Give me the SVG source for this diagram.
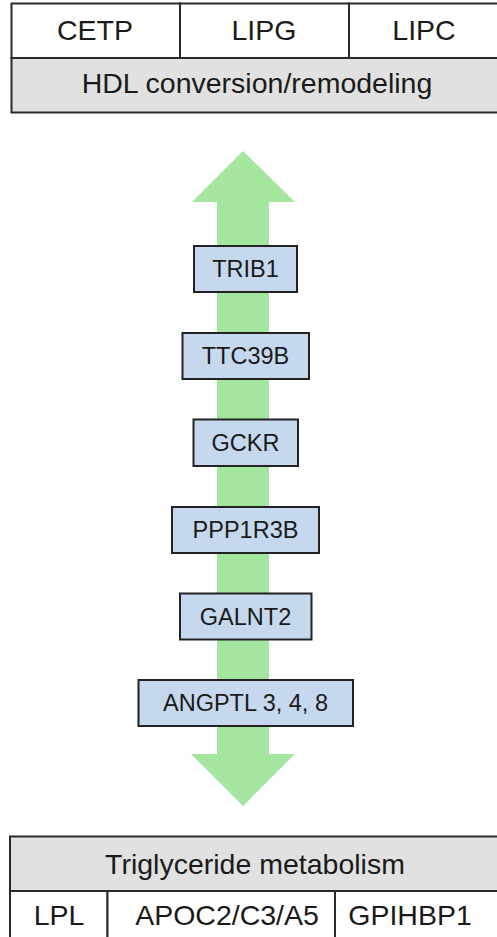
<svg xmlns="http://www.w3.org/2000/svg" width="497" height="937" viewBox="0 0 497 937">
<style>
text{font-family:"Liberation Sans",Arial,Helvetica,sans-serif;fill:#1a1a1a;text-anchor:middle}
.cell{fill:#ffffff;stroke:#2a2a2a;stroke-width:2}
.head{fill:#e1e1e1;stroke:#2a2a2a;stroke-width:2}
.big{font-size:28.5px}
.box rect{fill:#c6d8ee;stroke:#222;stroke-width:2}
.box text{font-size:23.5px}
</style>
<rect width="497" height="937" fill="#ffffff"/>
<g id="connectors">
<polygon points="243,151 295,202 269,202 269,754 295,754 243,806 191,754 217,754 217,202 192,202" fill="#a4e6a0"/>
</g>
<g id="hdl-table">
<rect class="cell" x="11.5" y="3.5" width="168.5" height="54.5"/>
<rect class="cell" x="180" y="3.5" width="169" height="54.5"/>
<rect class="cell" x="349" y="3.5" width="160" height="54.5"/>
<rect class="head" x="11.5" y="58" width="497.5" height="54.5"/>
<text class="big" x="95" y="39.5">CETP</text>
<text class="big" x="264" y="39.5">LIPG</text>
<text class="big" x="424" y="39.5">LIPC</text>
<text class="big" x="257" y="92.5">HDL conversion/remodeling</text>
</g>
<g id="trib1" class="box"><rect x="194" y="246" width="103" height="46"/><text x="245.5" y="277.4">TRIB1</text></g>
<g id="ttc39b" class="box"><rect x="182.5" y="333" width="126.5" height="46"/><text x="245.5" y="364.4">TTC39B</text></g>
<g id="gckr" class="box"><rect x="193.5" y="419.5" width="104.5" height="46.5"/><text x="245.5" y="451.2">GCKR</text></g>
<g id="ppp1r3b" class="box"><rect x="172" y="507" width="147" height="46"/><text x="245.5" y="538.4">PPP1R3B</text></g>
<g id="galnt2" class="box"><rect x="180" y="593.5" width="131.5" height="46"/><text x="245.5" y="624.9">GALNT2</text></g>
<g id="angptl" class="box"><rect x="138.5" y="680" width="214.5" height="46"/><text x="245.5" y="711.4">ANGPTL 3, 4, 8</text></g>
<g id="tg-table">
<rect class="head" x="10" y="836.5" width="500" height="54.5"/>
<rect class="cell" x="10" y="891" width="97.5" height="60"/>
<rect class="cell" x="107.5" y="891" width="227.5" height="60"/>
<rect class="cell" x="335" y="891" width="175" height="60"/>
<text class="big" x="255" y="874">Triglyceride metabolism</text>
<text class="big" x="59" y="925">LPL</text>
<text class="big" x="227" y="925">APOC2/C3/A5</text>
<text class="big" x="410" y="925">GPIHBP1</text>
</g>
</svg>
